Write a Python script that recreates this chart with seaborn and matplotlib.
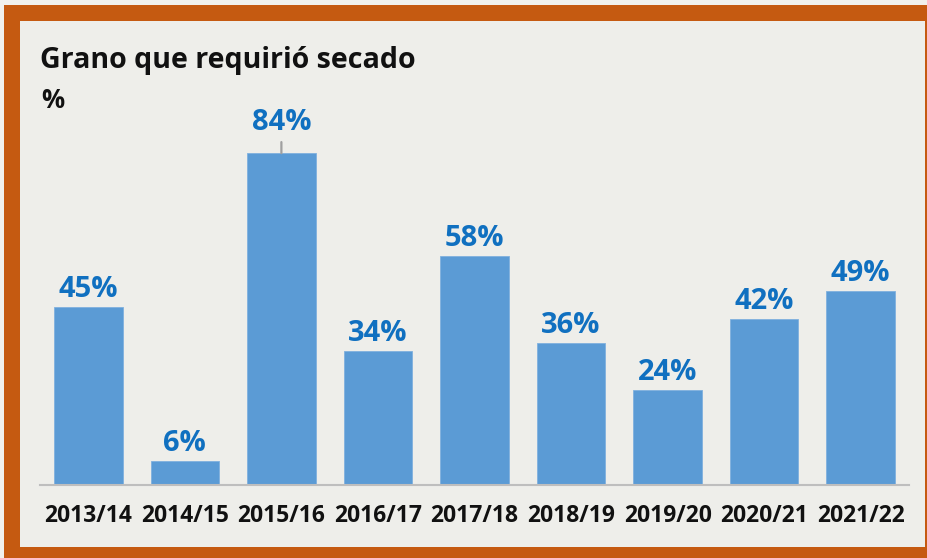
import matplotlib
matplotlib.use('Agg')
import matplotlib.pyplot as plt
import matplotlib.patches as mpatches
import pandas as pd
import seaborn as sns

# Data
seasons = ['2013/14', '2014/15', '2015/16', '2016/17', '2017/18',
           '2018/19', '2019/20', '2020/21', '2021/22']
pct_dried = [45, 6, 84, 34, 58, 36, 24, 42, 49]
title_text = 'Grano que requirió secado'
unit_text = '%'
raised_label = '2015/16'  # label lifted with a leader line

BAR_COLOR = '#5B9BD5'
LABEL_COLOR = '#1070C0'
FRAME_COLOR = '#C55A11'
INNER_BG = '#EEEEEA'
OUTER_BG = '#F1F1ED'

sns.set_theme(style='white')
plt.rcParams['font.family'] = ['Open Sans', 'DejaVu Sans']

df = pd.DataFrame({'season': seasons, 'pct': pct_dried})

W, H = 927, 558
fig = plt.figure(figsize=(W / 100, H / 100), dpi=100)
fig.patch.set_facecolor(OUTER_BG)

# orange frame and inner panel, in pixel units converted to figure fractions
def px_rect(x0, y0, x1, y1, color, z):
    r = mpatches.Rectangle((x0 / W, 1 - y1 / H), (x1 - x0) / W, (y1 - y0) / H,
                           transform=fig.transFigure, facecolor=color,
                           edgecolor='none', zorder=z)
    fig.patches.append(r)

px_rect(4, 5, W + 5, H + 5, FRAME_COLOR, -3)
px_rect(20, 21, 925, 547, INNER_BG, -2)

ax = fig.add_axes([40 / W, 73 / H, 869 / W, 355.5 / H])
ax.set_facecolor('none')
ax.set_zorder(2)

sns.barplot(data=df, x='season', y='pct', color=BAR_COLOR, saturation=1,
            width=0.71, edgecolor='#7FB0DE', linewidth=0.6, ax=ax)

ax.set_ylim(0, 90)
ax.set_xlim(-0.5, len(seasons) - 0.5)
ax.set_xlabel('')
ax.set_ylabel('')
ax.set_yticks([])
for side in ['top', 'left', 'right']:
    ax.spines[side].set_visible(False)
ax.spines['bottom'].set_color('#BEBEBE')
ax.spines['bottom'].set_linewidth(1.5)
ax.tick_params(axis='x', length=0, pad=14)
for lbl in ax.get_xticklabels():
    lbl.set_fontsize(16.5)
    lbl.set_fontweight('bold')
    lbl.set_color('#111111')

# value labels
for i, (season, val) in enumerate(zip(seasons, pct_dried)):
    if season == raised_label:
        ax.annotate('', xy=(i, val), xytext=(0, 8), textcoords='offset points',
                    arrowprops=dict(arrowstyle='-', color='#A0A0A0', lw=1.6,
                                    shrinkA=0, shrinkB=0))
        offset = 16.6
    else:
        offset = 7.2
    ax.annotate(f'{val}%', xy=(i, val), xytext=(0, offset),
                textcoords='offset points', ha='center', va='baseline',
                fontsize=21, fontweight='bold', color=LABEL_COLOR)

fig.text(40 / W, 1 - 68 / H, title_text, fontsize=20.6, fontweight='bold',
         color='#111111', ha='left', va='baseline', zorder=3)
fig.text(41 / W, 1 - 108 / H, unit_text, fontsize=18.5, fontweight='bold',
         color='#111111', ha='left', va='baseline', zorder=3)

fig.savefig('out.png', dpi=100, facecolor=fig.get_facecolor())
